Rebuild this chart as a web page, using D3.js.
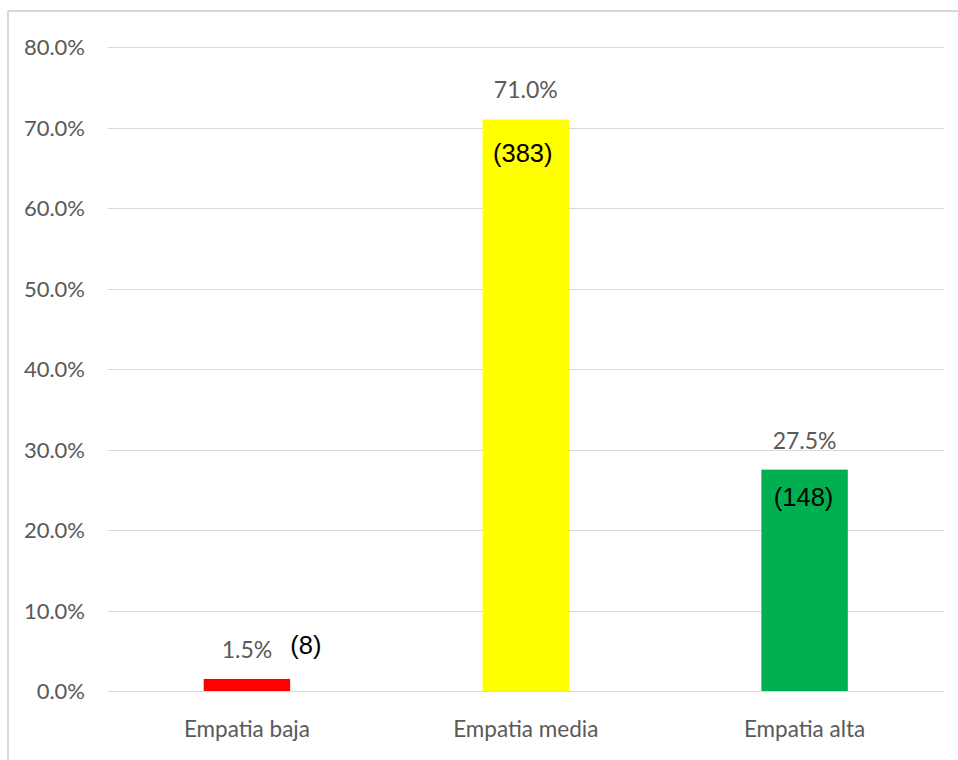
<!DOCTYPE html>
<html>
<head>
<meta charset="utf-8">
<script src="https://cdn.jsdelivr.net/npm/d3@7"></script>
<style>
  html, body { margin: 0; padding: 0; background: #ffffff; }
  svg { display: block; }
</style>
</head>
<body>
<svg id="chart" width="958" height="760"></svg>
<script>
// Empathy level distribution
const categories = ["Empatia baja", "Empatia media", "Empatia alta"];
const percents = [1.5, 71.0, 27.5];
const counts = [8, 383, 148];
const barColors = ["#ff0000", "#ffff00", "#00b050"];
const yTicks = [0, 10, 20, 30, 40, 50, 60, 70, 80];

const svg = d3.select("#chart");
const W = 958, H = 760;
const plot = { left: 107.5, right: 944, top: 47, bottom: 691 };

const labelFont = "Lato, 'Open Sans', sans-serif";
const countFont = "'Liberation Sans', Arial, sans-serif";
const gray = "#595959";

// outer frame (top and left edges visible)
svg.append("line").attr("x1", 8).attr("x2", W).attr("y1", 11).attr("y2", 11)
  .attr("stroke", "#d9d9d9").attr("stroke-width", 2);
svg.append("line").attr("x1", 8).attr("x2", 8).attr("y1", 11).attr("y2", H)
  .attr("stroke", "#d9d9d9").attr("stroke-width", 2);

const x = d3.scaleBand().domain(categories)
  .range([plot.left, plot.right]).paddingInner(0.69).paddingOuter(0.345);
const y = d3.scaleLinear().domain([0, 80]).range([plot.bottom, plot.top]);

// gridlines
svg.append("g").selectAll("line").data(yTicks).join("line")
  .attr("x1", plot.left).attr("x2", plot.right)
  .attr("y1", d => Math.round(y(d)) + 0.5).attr("y2", d => Math.round(y(d)) + 0.5)
  .attr("stroke", "#d9d9d9").attr("stroke-width", 1);

// y-axis labels
const yAxis = d3.axisLeft(y).tickValues(yTicks).tickSize(0).tickPadding(0)
  .tickFormat(d => d.toFixed(1) + "%");
const gy = svg.append("g").attr("transform", "translate(85,0)").call(yAxis);
gy.select(".domain").remove();
gy.selectAll("text").attr("font-family", labelFont).attr("font-size", 22)
  .attr("fill", gray).attr("dy", "0.36em");

// bars
svg.append("g").selectAll("rect").data(categories).join("rect")
  .attr("x", d => x(d))
  .attr("width", x.bandwidth())
  .attr("y", (d, i) => y(percents[i]))
  .attr("height", (d, i) => y(0) - y(percents[i]))
  .attr("fill", (d, i) => barColors[i]);

// x-axis labels
const xAxis = d3.axisBottom(x).tickSize(0).tickPadding(0);
const gx = svg.append("g").attr("transform", "translate(0,737)").call(xAxis);
gx.select(".domain").remove();
gx.selectAll("text").attr("font-family", labelFont).attr("font-size", 22.5)
  .attr("fill", gray).attr("dy", 0);

// percentage labels above bars
svg.append("g").selectAll("text").data(categories).join("text")
  .attr("x", d => x(d) + x.bandwidth() / 2)
  .attr("y", (d, i) => y(percents[i]) - 21)
  .attr("text-anchor", "middle")
  .attr("font-family", labelFont).attr("font-size", 23)
  .attr("fill", gray)
  .text((d, i) => percents[i].toFixed(1) + "%");

// count labels: inside tall bars, beside the value on the short one
const countOffset = { "Empatia baja": [59, -4], "Empatia media": [-3, 43], "Empatia alta": [-1, 36] };
svg.append("g").selectAll("text").data(categories).join("text")
  .attr("x", d => x(d) + x.bandwidth() / 2 + countOffset[d][0])
  .attr("y", (d, i) => (percents[i] > 10 ? y(percents[i]) : y(percents[i]) - 21) + countOffset[d][1])
  .attr("text-anchor", "middle")
  .attr("font-family", countFont).attr("font-size", 25.5)
  .attr("fill", "#000000")
  .text((d, i) => "(" + counts[i] + ")");
</script>
</body>
</html>
